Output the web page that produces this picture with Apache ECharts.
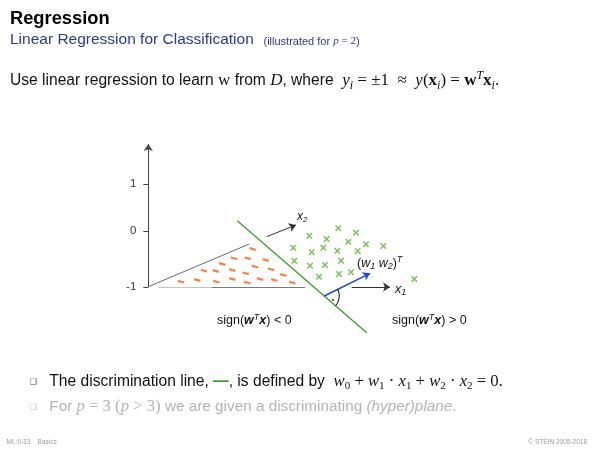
<!DOCTYPE html>
<html>
<head>
<meta charset="utf-8">
<script src="https://cdn.jsdelivr.net/npm/echarts@6/dist/echarts.min.js"></script>
<style>html,body{margin:0;padding:0;background:#fff}#c{width:600px;height:450px}</style>
</head>
<body>
<div id="c"></div>
<script>
// ---- data (diagram plane units) ----
const zTickLabels = ['1', '0', '-1'];
const zTickPos = [184, 231, 287];
const zAxisX = 148.3;
const zAxisTop = 144;
// class -1 samples (orange "-")
const negPoints = [
  [252.7,249],[234,258.3],[247.7,258.3],[265.7,260],[222.3,264],[255,266.7],
  [204,270.7],[215.7,271],[232.3,270],[245.7,273.3],[271,269.3],[283.3,275],
  [181,281.7],[197.3,280],[216.3,281.7],[232.3,279],[247.3,282.7],[260,279],
  [274.3,280],[292.3,282.7]
];
// class +1 samples (green "x")
const posPoints = [
  [338.3,228.3],[356,232.7],[309.3,235.7],[326.7,239],[348.3,241.7],[366,244.3],
  [383.3,246],[293.3,247.7],[311.7,252.3],[323.3,247.7],[337.3,250.7],[357.7,251.3],
  [294.3,260.7],[310,265.7],[325,265],[341,260.7],[319,276.7],[339,274],
  [351,272.3],[414.3,279]
];
const x2AxisBack = [[148.3,286.7],[249.3,244]];
const x2AxisFront = [[266.7,236.7],[296,225]];
const x1AxisBackLight = [[158.3,287],[212,287]];
const x1AxisBack = [[212,287],[305,287]];
const x1AxisFront = [[351.7,287],[390,287]];
const discLine = [[237.3,220.7],[366.7,332.7]];
const normalVec = [[324.3,296],[370,273.3]];
const rightAngleDot = [[333,300]];

const chart = echarts.init(document.getElementById('c'), null, {renderer:'canvas'});

const SANS = '"Liberation Sans", Arial, Helvetica, sans-serif';
const SERIF = '"Liberation Serif", "DejaVu Serif", serif';

const blueAng = Math.atan2(normalVec[1][1]-normalVec[0][1], normalVec[1][0]-normalVec[0][0]);
const greenAng = Math.atan2(discLine[1][1]-discLine[0][1], discLine[1][0]-discLine[0][0]);

function rich(size, color, msize) {
  msize = msize || size;
  const sub = Math.round(msize*0.68);
  const ssub = Math.round(size*0.68);
  return {
    t:  {fontFamily:SANS, fontSize:size, fill:color, lineHeight:msize+6},
    ti: {fontFamily:SANS, fontSize:size, fill:color, fontStyle:'italic', lineHeight:msize+6},
    tbi:{fontFamily:SANS, fontSize:size, fill:color, fontStyle:'italic', fontWeight:'bold', lineHeight:msize+6},
    g:  {fontFamily:SANS, fontSize:size, fill:'#3c9a2e', fontWeight:'bold', lineHeight:msize+6},
    m:  {fontFamily:SERIF, fontSize:msize, fill:color, lineHeight:msize+6},
    mi: {fontFamily:SERIF, fontSize:msize, fill:color, fontStyle:'italic', lineHeight:msize+6},
    mb: {fontFamily:SERIF, fontSize:msize, fill:color, fontWeight:'bold', lineHeight:msize+6},
    sub:{fontFamily:SERIF, fontSize:sub, fill:color, lineHeight:sub, padding:[Math.round(msize*0.5),0,0,0]},
    subi:{fontFamily:SERIF, fontSize:sub, fill:color, fontStyle:'italic', lineHeight:sub, padding:[Math.round(msize*0.5),0,0,0]},
    ssub:{fontFamily:SANS, fontSize:ssub, fill:color, fontStyle:'italic', lineHeight:ssub, padding:[Math.round(size*0.5),0,0,0]},
    sup:{fontFamily:SERIF, fontSize:sub, fill:color, fontStyle:'italic', lineHeight:sub, padding:[0,0,Math.round(msize*0.6),0]},
    ssup:{fontFamily:SANS, fontSize:ssub, fill:color, fontStyle:'italic', lineHeight:ssub, padding:[0,0,Math.round(size*0.6),0]}
  };
}
function txt(x, y, text, size, color, msize, align) {
  return {type:'text', silent:true, style:{x:x, y:y, text:text, rich:rich(size,color,msize),
    align:align||'left', verticalAlign:'middle', fill:color, font: size+'px '+SANS}};
}

const option = {
  animation:false,
  backgroundColor:'#fff',
  grid:{left:0,right:0,top:0,bottom:0},
  xAxis:{type:'value', min:0, max:600, show:false},
  yAxis:{type:'value', min:0, max:450, inverse:true, show:false},
  series:[
    { type:'lines', coordinateSystem:'cartesian2d', silent:true, symbol:'none', z:2,
      lineStyle:{opacity:1},
      data:[
        {coords:x2AxisBack, lineStyle:{color:'#6a6a6a', width:1, opacity:1}},
        {coords:x1AxisBackLight, lineStyle:{color:'#c4c4c4', width:1, opacity:1}},
        {coords:x1AxisBack, lineStyle:{color:'#7a7a7a', width:1, opacity:1}},
        ...zTickPos.map(y => ({coords:[[zAxisX-5,y],[zAxisX,y]], lineStyle:{color:'#444', width:1, opacity:1}})),
        {coords:discLine, lineStyle:{color:'#3c9a2e', width:1.3, opacity:1}}
      ]},
    { type:'lines', coordinateSystem:'cartesian2d', silent:true, symbol:['none','arrow'], symbolSize:7, z:3,
      lineStyle:{opacity:1},
      data:[
        {coords:[[zAxisX,zTickPos[2]],[zAxisX,zAxisTop]], lineStyle:{color:'#444', width:1, opacity:1}},
        {coords:x2AxisFront, lineStyle:{color:'#333', width:1, opacity:1}},
        {coords:x1AxisFront, lineStyle:{color:'#333', width:1, opacity:1}},
        {coords:normalVec, lineStyle:{color:'#2343d8', width:1.5, opacity:1}}
      ]},
    { type:'scatter', silent:true, data:negPoints, symbol:'rect', symbolSize:[6.5,2.2], symbolRotate:-15,
      itemStyle:{color:'#f0641c'}, z:4},
    { type:'scatter', silent:true, data:posPoints, symbol:'path://M0,0L10,10M10,0L0,10', symbolSize:5.5,
      itemStyle:{color:'none', borderColor:'#57b22c', borderWidth:1.5}, z:4},
    { type:'scatter', silent:true, data:rightAngleDot, symbol:'circle', symbolSize:2.2,
      itemStyle:{color:'#000'}, z:5},
    { type:'custom', coordinateSystem:'cartesian2d', silent:true, data:[normalVec[0]], z:5,
      renderItem:(p, api) => {
        const c = api.coord([api.value(0), api.value(1)]);
        return {type:'arc', shape:{cx:c[0], cy:c[1], r:15, startAngle:blueAng, endAngle:greenAng, clockwise:true},
          style:{stroke:'#000', fill:null, lineWidth:1}};
      }},
    { type:'scatter', silent:true, symbolSize:0,
      data: zTickPos.map((y,i) => ({value:[zAxisX-12, y], label:{formatter:zTickLabels[i]}})),
      label:{show:true, position:'inside', align:'right', verticalAlign:'middle', color:'#000', fontSize:11.5, fontFamily:SANS}}
  ],
  graphic:[
    {type:'text', silent:true, style:{x:10, y:19, text:'Regression', font:'bold 18.3px '+SANS, fill:'#000', verticalAlign:'middle'}},
    {type:'text', silent:true, style:{x:10, y:40, text:'Linear Regression for Classification', font:'15.5px '+SANS, fill:'#2b3a8c', verticalAlign:'middle'}},
    txt(263.5, 41.5, '{t|(illustrated for }{mi|p}{m| = 2}{t|)}', 11, '#2b3a8c'),
    txt(10, 81, '{t|Use linear regression to learn }{m|w}{t| from }{mi|D}{t|, where  }{mi|y}{subi|i}{m| = ±1  ≈  }{mi|y}{m|(}{mb|x}{subi|i}{m|) = }{mb|w}{sup|T}{mb|x}{subi|i}{m|.}', 15.6, '#111', 17),
    // diagram labels
    txt(297, 217, '{ti|x}{ssub|2}', 12, '#111'),
    txt(395, 289.5, '{ti|x}{ssub|1}', 12.5, '#111'),
    txt(357, 263.5, '{t|(}{ti|w}{ssub|1}{ti| w}{ssub|2}{t|)}{ssup|T}', 12.5, '#111'),
    txt(217, 321, '{t|sign(}{tbi|w}{ssup|T}{tbi|x}{t|) < 0}', 12.5, '#111'),
    txt(392, 321, '{t|sign(}{tbi|w}{ssup|T}{tbi|x}{t|) > 0}', 12.5, '#111'),
    // bullets
    {type:'text', silent:true, style:{x:33.3, y:382, text:'❑', font:'8px "DejaVu Sans"', fill:'#333', align:'center', verticalAlign:'middle'}},
    {type:'text', silent:true, style:{x:33.3, y:407, text:'❑', font:'8px "DejaVu Sans"', fill:'#bbb', align:'center', verticalAlign:'middle'}},
    txt(49.3, 382, '{t|The discrimination line, }{g|—}{t|, is defined by  }{mi|w}{sub|0}{m| + }{mi|w}{sub|1}{m| · }{mi|x}{sub|1}{m| + }{mi|w}{sub|2}{m| · }{mi|x}{sub|2}{m| = 0.}', 15.6, '#111', 16.7),
    txt(49.3, 407, '{t|For }{mi|p}{m| = 3 (}{mi|p}{m| > 3)}{t| we are given a discriminating }{ti|(hyper)plane}{t|.}', 15.3, '#b4b4b4', 16.7),
    // footer
    {type:'text', silent:true, style:{x:6.5, y:442, text:'ML:II-33    Basics', font:'6.5px '+SANS, fill:'#9a9a9a', verticalAlign:'middle'}},
    {type:'text', silent:true, style:{x:587, y:442, text:'© STEIN 2005-2018', font:'6.5px '+SANS, fill:'#9a9a9a', align:'right', verticalAlign:'middle'}}
  ]
};
chart.setOption(option);
</script>
</body>
</html>
